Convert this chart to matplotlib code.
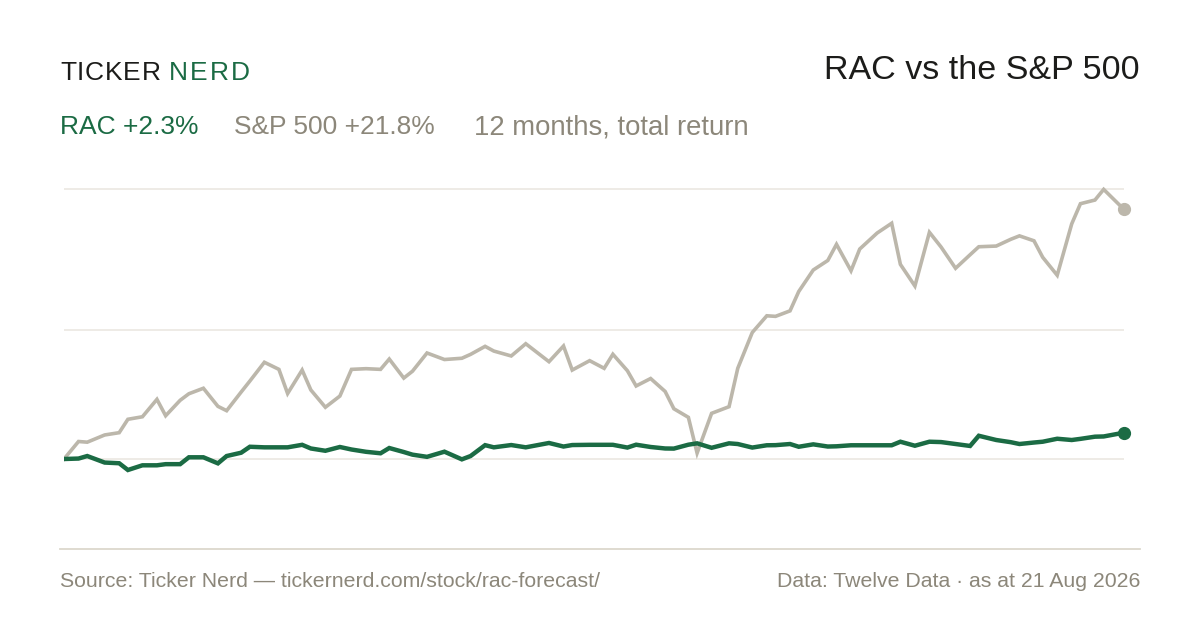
import matplotlib.pyplot as plt
import numpy as np
import pandas as pd

plt.rcParams['font.family'] = ['Liberation Sans', 'DejaVu Sans']

# days since 21 Aug 2025
days = [0, 5, 8, 14, 19, 22, 27, 32, 35, 40, 43, 48, 53, 56, 61, 64, 69, 74, 77, 82,
        85, 90, 95, 99, 104, 109, 112, 117, 120, 125, 131, 137, 140, 145, 148, 154, 159,
        167, 172, 175, 181, 186, 189, 194, 197, 202, 207, 210, 215, 218, 223, 229, 232,
        237, 242, 245, 250, 253, 258, 263, 266, 271, 274, 280, 285, 288, 293, 298, 302,
        307, 312, 315, 321, 326, 329, 334, 337, 342, 347, 350, 355, 358, 365]

# cumulative total return, %
spx = [0.0, 1.53, 1.47, 2.10, 2.30, 3.47, 3.69, 5.21, 3.78, 5.13, 5.70, 6.18, 4.60, 4.22,
       5.85, 6.81, 8.45, 7.83, 5.72, 7.77, 6.03, 4.52, 5.50, 7.83, 7.89, 7.83, 8.73, 7.07,
       7.67, 9.26, 8.69, 8.80, 9.14, 9.84, 9.43, 9.00, 10.07, 8.50, 9.87, 7.77, 8.59, 7.92,
       9.15, 7.71, 6.38, 7.03, 5.90, 4.39, 3.64, 0.52, 3.99, 4.57, 7.92, 11.05, 12.51,
       12.46, 12.94, 14.63, 16.51, 17.34, 18.75, 16.44, 18.34, 19.74, 20.59, 17.00, 15.11,
       19.80, 18.52, 16.66, 17.84, 18.54, 18.60, 19.19, 19.49, 19.06, 17.62, 16.05, 20.54,
       22.30, 22.62, 23.55, 21.8]

rac = [0.0, 0.04, 0.26, -0.31, -0.37, -0.96, -0.55, -0.55, -0.45, -0.45, 0.15, 0.15, -0.38,
       0.26, 0.55, 1.07, 1.02, 1.02, 1.02, 1.24, 0.92, 0.72, 1.05, 0.83, 0.63, 0.50, 0.96,
       0.61, 0.38, 0.19, 0.64, -0.03, 0.26, 1.21, 1.02, 1.22, 1.02, 1.40, 1.09, 1.22, 1.24,
       1.24, 1.24, 1.00, 1.25, 1.05, 0.92, 0.91, 1.25, 1.37, 0.98, 1.37, 1.31, 1.00, 1.20,
       1.21, 1.31, 1.07, 1.28, 1.09, 1.11, 1.20, 1.20, 1.20, 1.20, 1.51, 1.16, 1.51, 1.48,
       1.31, 1.14, 2.03, 1.66, 1.47, 1.31, 1.44, 1.51, 1.77, 1.66, 1.76, 1.95, 1.97, 2.3]

grid_levels = [0, 11.27, 23.55]

GREEN = '#1b6b44'
SAND = '#bcb7ab'
MUTED = '#8c877a'
INK = '#1c1c1a'

dates = pd.Timestamp('2025-08-21') + pd.to_timedelta(days, unit='D')

fig = plt.figure(figsize=(12, 6.3), dpi=100)
fig.patch.set_facecolor('white')

# plot box: x 64..1124 px, y 180..549 px
ax = fig.add_axes([64 / 1200, 1 - 549 / 630, 1060 / 1200, 369 / 630])
ax.set_xlim(dates[0], dates[-1])
ax.set_ylim(-7.86, 24.37)

for lvl in grid_levels:
    ax.axhline(lvl, color='#ebe8e1', lw=1.2, zorder=1)

ax.plot(dates, spx, color=SAND, lw=2.6, solid_joinstyle='miter', zorder=2)
ax.plot(dates[-1], spx[-1], 'o', color=SAND, ms=8.5, clip_on=False, zorder=3)
ax.plot(dates, rac, color=GREEN, lw=3.2, solid_joinstyle='miter', zorder=4)
ax.plot(dates[-1], rac[-1], 'o', color=GREEN, ms=8.5, clip_on=False, zorder=5)

ax.axis('off')

# bottom rule, wider than the plot
fig.add_artist(plt.Line2D([60 / 1200, 1140 / 1200], [1 - 549 / 630] * 2,
                          color='#dcd8cd', lw=1.3))

def fy(px):
    return 1 - px / 630

renderer = fig.canvas.get_renderer()

def spaced(x_px, y_px, s, color, size, gap=1.6):
    # draw letter-spaced wordmark one glyph at a time
    for ch in s:
        t = fig.text(x_px / 1200, fy(y_px), ch, color=color, fontsize=size, va='baseline')
        w = t.get_window_extent(renderer).width
        x_px += w + gap
    return x_px

spaced(60, 80, 'TICKER', INK, 19, gap=0.8)
spaced(169, 80, 'NERD', GREEN, 19, gap=2.0)

fig.text(1140 / 1200, fy(79), 'RAC vs the S&P 500', color=INK, fontsize=24.5,
         ha='right', va='baseline')

fig.text(60 / 1200, fy(134), f'RAC +{rac[-1]:.1f}%', color=GREEN, fontsize=19, va='baseline')
fig.text(234 / 1200, fy(134), f'S&P 500 +{spx[-1]:.1f}%', color=MUTED, fontsize=19, va='baseline')
fig.text(474 / 1200, fy(134), '12 months, total return', color=MUTED, fontsize=19.8,
         va='baseline')

fig.text(60 / 1200, fy(587), 'Source: Ticker Nerd \u2014 tickernerd.com/stock/rac-forecast/',
         color=MUTED, fontsize=15.3, va='baseline')
fig.text(1140 / 1200, fy(587), 'Data: Twelve Data \u00b7 as at 21 Aug 2026',
         color=MUTED, fontsize=15.3, ha='right', va='baseline')

fig.savefig('out.png', dpi=100, facecolor='white')
